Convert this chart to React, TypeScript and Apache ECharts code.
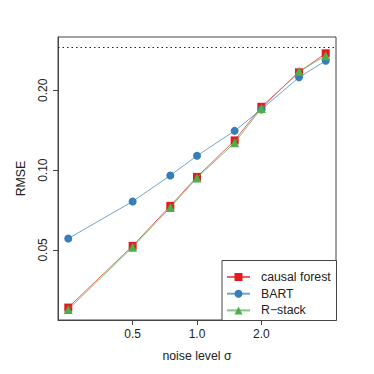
import React, { useEffect, useRef } from "react";
import * as echarts from "echarts";

const sigma = [0.25, 0.5, 0.75, 1, 1.5, 2, 3, 4];
const causalForest = [0.0303, 0.0518, 0.0733, 0.0943, 0.1295, 0.1734, 0.234, 0.276];
const bart = [0.0552, 0.0762, 0.0955, 0.1133, 0.1407, 0.1695, 0.224, 0.2587];
const rStack = [0.0298, 0.0512, 0.0723, 0.0935, 0.1268, 0.171, 0.2359, 0.2702];
const xTicks = [0.5, 1, 2];
const yTicks = [0.05, 0.1, 0.2];
const referenceLine = 0.29;

const FONT = "Liberation Sans, Arial, Helvetica, sans-serif";

const seriesDefs = [
  { name: "causal forest", data: causalForest, color: "#E41A1C", symbol: "rect", size: 8 },
  { name: "BART", data: bart, color: "#377EB8", symbol: "circle", size: 8 },
  { name: "R\u2212stack", data: rStack, color: "#4DAF4A", symbol: "triangle", size: 9 },
];

export default function App() {
  const ref = useRef<HTMLDivElement>(null);
  useEffect(() => {
    if (!ref.current) return;
    const chart = echarts.init(ref.current, undefined, { renderer: "svg" });
    const series: any[] = seriesDefs.map((s, i) => ({
      name: s.name,
      type: "line",
      data: sigma.map((x, j) => [x, s.data[j]]),
      symbol: s.symbol,
      symbolSize: s.size,
      showSymbol: true,
      itemStyle: { color: s.color, opacity: 1 },
      lineStyle: { color: s.color, width: 1, opacity: 0.7 },
      z: 3 + i,
      markLine:
        i === 0
          ? {
              silent: true,
              symbol: "none",
              label: { show: false },
              lineStyle: { color: "#222", type: [1.5, 3], width: 1.2, opacity: 1 },
              data: [{ yAxis: referenceLine }],
            }
          : undefined,
    }));
    chart.setOption({
      animation: false,
      backgroundColor: "#fff",
      textStyle: { fontFamily: FONT },
      grid: {
        left: 58,
        top: 37,
        right: 38,
        bottom: 54,
        show: true,
        borderColor: "#444",
        borderWidth: 1,
        backgroundColor: "transparent",
      },
      xAxis: {
        type: "log",
        logBase: 2,
        min: 0.2238,
        max: 4.468,
        name: "noise level \u03c3",
        nameLocation: "middle",
        nameGap: 30,
        nameTextStyle: { fontSize: 12.3, color: "#222", fontFamily: FONT },
        axisLine: { show: true, lineStyle: { color: "#444" } },
        splitLine: { show: false },
        minorTick: { show: false },
        axisTick: { show: true, inside: false, length: 5, customValues: xTicks, lineStyle: { color: "#444" } },
        axisLabel: {
          customValues: xTicks,
          fontSize: 12,
          color: "#222",
          margin: 8,
          fontFamily: FONT,
          formatter: (v: number) => v.toFixed(1),
        },
      },
      yAxis: {
        type: "log",
        logBase: 10,
        min: 0.0272,
        max: 0.318,
        name: "RMSE",
        nameLocation: "middle",
        nameGap: 31,
        nameRotate: 90,
        nameTextStyle: { fontSize: 12.3, color: "#222", fontFamily: FONT },
        axisLine: { show: true, lineStyle: { color: "#444" } },
        splitLine: { show: false },
        minorTick: { show: false },
        axisTick: { show: true, inside: false, length: 5, customValues: yTicks, lineStyle: { color: "#444" } },
        axisLabel: {
          customValues: yTicks,
          fontSize: 12,
          color: "#222",
          margin: 9,
          rotate: 90,
          fontFamily: FONT,
          formatter: (v: number) => v.toFixed(2),
        },
      },
      legend: {
        orient: "vertical",
        left: 226,
        top: 271,
        padding: 0,
        itemWidth: 23,
        itemHeight: 10,
        itemGap: 4.7,
        textStyle: { fontSize: 12.3, color: "#222", fontFamily: FONT, padding: [0, 0, 0, 6] },
        data: seriesDefs.map((s) => ({ name: s.name })),
      },
      graphic: [
        {
          type: "rect",
          left: 221.5,
          top: 260,
          shape: { width: 114.5, height: 60 },
          style: { fill: "#fff", stroke: "#444", lineWidth: 1 },
          z: 0,
          zlevel: 0,
        },
      ],
      series,
    });
    return () => chart.dispose();
  }, []);
  return <div ref={ref} style={{ width: 374, height: 374, margin: -8 }} />;
}
